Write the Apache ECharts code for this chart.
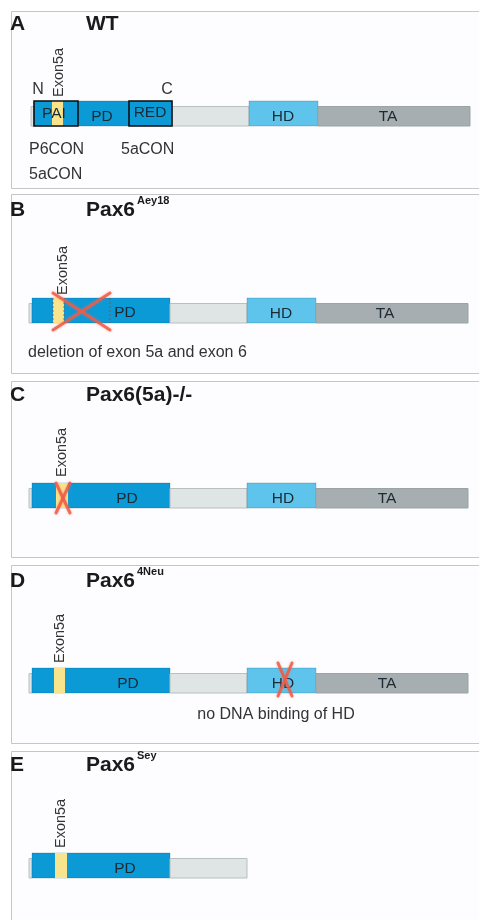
<!DOCTYPE html>
<html><head><meta charset="utf-8">
<script src="https://cdn.jsdelivr.net/npm/echarts@6/dist/echarts.min.js"></script>
<style>html,body{margin:0;padding:0;background:#fff}#c{width:479px;height:920px}</style>
</head><body><div id="c"></div><script>
// ---------- data ----------
const panelLetters = ['A', 'B', 'C', 'D', 'E'];
const panelNames = ['WT', 'Pax6', 'Pax6(5a)-/-', 'Pax6', 'Pax6'];
const panelSups = ['', 'Aey18', '', '4Neu', 'Sey'];
// protein domains (position units along the protein)
const segKinds = ['stub', 'PD', 'linker', 'HD', 'TA'];
const segStart = [0, 3, 141, 218, 287];
const segEnd = [3, 141, 218, 287, 439];
const segTall = [0, 1, 0, 1, 0];
const panelSegCount = [5, 5, 5, 5, 3];
// exon 5a insertion
const exonStart = [21, 24, 27, 25, 26];
const exonEnd = [32, 35, 39, 36, 38];
const exonLabelX = [28, 34, 33, 31, 32];
const exonLabelY = [1.16, 1.12, 1.24, 1.2, 1.2];
// boxed subdomains (panel A)
const boxNames = ['PAI', 'RED'];
const boxStart = [3, 98];
const boxEnd = [47, 141];
// crossed-out regions
const crossPanel = [1, 2, 3];
const crossStart = [24, 27, 249];
const crossEnd = [81, 41, 263];
const crossLow = [-0.28, -0.2, -0.12];
const crossHigh = [1.2, 1.0, 1.2];
// dotted deletion borders (panel B)
const dashPanel = [1, 1, 1];
const dashX = [24, 35, 81];
// domain labels
const labelPanel = [0, 0, 0, 0, 0, 1, 1, 1, 2, 2, 2, 3, 3, 3, 4];
const labelText = ['PAI', 'PD', 'RED', 'HD', 'TA', 'PD', 'HD', 'TA', 'PD', 'HD', 'TA', 'PD', 'HD', 'TA', 'PD'];
const labelX = [23, 71, 119, 252, 357, 96, 252, 356, 98, 254, 358, 99, 254, 358, 96];
const labelY = [0.5, 0.38, 0.52, 0.38, 0.38, 0.4, 0.38, 0.38, 0.38, 0.38, 0.38, 0.38, 0.38, 0.38, 0.38];
// annotations
const annPanel = [0, 0, 0, 0, 0, 1, 3];
const annText = ['N', 'C', 'P6CON', '5aCON', '5aCON', 'deletion of exon 5a and exon 6', 'no DNA binding of HD'];
const annX = [7, 136, -2, 90, -2, -1, 247];
const annY = [1.44, 1.44, -0.96, -0.96, -1.96, -1.2, -0.88];
const annAlign = ['center', 'center', 'left', 'left', 'left', 'left', 'center'];

// ---------- layout / style ----------
const gridLeft = [31, 29, 29, 29, 29];
const gridTop = [101, 298, 483, 668, 853];
const panelTop = [11, 194, 381, 565, 751];
const panelBottom = [188, 373, 557, 743, 940];
const titleY = [24.5, 210.5, 395.5, 581.5, 765.5];
const kindFill = { stub: '#dfe4e4', PD: '#0c9ad7', linker: '#dfe4e4', HD: '#5ec4ec', TA: '#a7aeb1' };
const kindStroke = { stub: '#b8c0c0', PD: 'rgba(0,80,120,0.25)', linker: '#b8c0c0', HD: 'rgba(0,90,130,0.25)', TA: '#9aa3a6' };
const FONT = '"Liberation Sans", Arial, sans-serif';
const THIN = 0.78;

const grids = [], xAxes = [], yAxes = [], series = [];
for (let p = 0; p < 5; p++) {
  grids.push({ left: gridLeft[p], top: gridTop[p], width: 439, height: 25 });
  xAxes.push({ type: 'value', gridIndex: p, min: 0, max: 439, show: false });
  yAxes.push({ type: 'value', gridIndex: p, min: 0, max: 1, show: false });

  // domain bars
  const segData = [];
  for (let i = 0; i < panelSegCount[p]; i++) {
    segData.push([segStart[i], segEnd[i], segTall[i] ? 1 : THIN, i]);
  }
  series.push({
    type: 'custom', xAxisIndex: p, yAxisIndex: p, z: 2,
    data: segData,
    renderItem: (params, api) => {
      const k = segKinds[api.value(3)];
      const a = api.coord([api.value(0), api.value(2)]);
      const b = api.coord([api.value(1), 0]);
      return { type: 'rect', shape: { x: a[0], y: a[1], width: b[0] - a[0], height: b[1] - a[1] },
        style: { fill: kindFill[k], stroke: kindStroke[k], lineWidth: 1 } };
    }
  });
  // exon 5a
  series.push({
    type: 'custom', xAxisIndex: p, yAxisIndex: p, z: 3,
    data: [[exonStart[p], exonEnd[p], 1]],
    renderItem: (params, api) => {
      const a = api.coord([api.value(0), api.value(2)]);
      const b = api.coord([api.value(1), 0]);
      return { type: 'rect', shape: { x: a[0], y: a[1], width: b[0] - a[0], height: b[1] - a[1] },
        style: { fill: '#f8e48c' } };
    }
  });
  // exon label
  series.push({
    type: 'custom', xAxisIndex: p, yAxisIndex: p, z: 6,
    data: [[exonLabelX[p], exonLabelY[p]]],
    renderItem: (params, api) => {
      const a = api.coord([api.value(0), api.value(1)]);
      return { type: 'text', x: a[0], y: a[1], rotation: Math.PI / 2,
        style: { text: 'Exon5a', fontSize: 14.5, fontFamily: FONT, fill: '#333',
          align: 'left', verticalAlign: 'middle', textAlign: 'left', textVerticalAlign: 'middle' } };
    }
  });
  // boxes
  if (p === 0) {
    series.push({
      type: 'custom', xAxisIndex: p, yAxisIndex: p, z: 4,
      data: boxStart.map((s, i) => [s, boxEnd[i], 1]),
      renderItem: (params, api) => {
        const a = api.coord([api.value(0), api.value(2)]);
        const b = api.coord([api.value(1), 0]);
        return { type: 'rect', shape: { x: a[0], y: a[1], width: b[0] - a[0], height: b[1] - a[1] },
          style: { fill: 'none', stroke: '#111', lineWidth: 1.6 } };
      }
    });
  }
  // dashed borders
  const dData = dashX.filter((x, i) => dashPanel[i] === p).map(x => [x, 0, 1]);
  if (dData.length) {
    series.push({
      type: 'custom', xAxisIndex: p, yAxisIndex: p, z: 4,
      data: dData,
      renderItem: (params, api) => {
        const a = api.coord([api.value(0), api.value(2)]);
        const b = api.coord([api.value(0), api.value(1)]);
        return { type: 'line', shape: { x1: a[0], y1: a[1], x2: b[0], y2: b[1] },
          style: { stroke: 'rgba(150,70,60,0.75)', lineWidth: 1, lineDash: [2, 2] } };
      }
    });
  }
  // crosses
  const cData = [];
  crossPanel.forEach((cp, i) => { if (cp === p) cData.push([crossStart[i], crossEnd[i], crossLow[i], crossHigh[i]]); });
  if (cData.length) {
    series.push({
      type: 'custom', xAxisIndex: p, yAxisIndex: p, z: 7,
      data: cData,
      renderItem: (params, api) => {
        const tl = api.coord([api.value(0), api.value(3)]);
        const br = api.coord([api.value(1), api.value(2)]);
        const st = { stroke: '#ee5b45', lineWidth: 3, opacity: 0.85, lineCap: 'round',
          shadowBlur: 3, shadowColor: 'rgba(240,110,90,0.6)' };
        return { type: 'group', children: [
          { type: 'line', shape: { x1: tl[0], y1: tl[1], x2: br[0], y2: br[1] }, style: st },
          { type: 'line', shape: { x1: br[0], y1: tl[1], x2: tl[0], y2: br[1] }, style: st }
        ] };
      }
    });
  }
  // domain labels
  const lData = [];
  labelPanel.forEach((lp, i) => { if (lp === p) lData.push([labelX[i], labelY[i], i]); });
  series.push({
    type: 'custom', xAxisIndex: p, yAxisIndex: p, z: 6,
    data: lData,
    renderItem: (params, api) => {
      const a = api.coord([api.value(0), api.value(1)]);
      return { type: 'text', x: a[0], y: a[1],
        style: { text: labelText[api.value(2)], fontSize: 15.5, fontFamily: FONT, fill: '#1c2a33',
          align: 'center', verticalAlign: 'middle', textAlign: 'center', textVerticalAlign: 'middle' } };
    }
  });
  // annotations
  const aData = [];
  annPanel.forEach((ap, i) => { if (ap === p) aData.push([annX[i], annY[i], i]); });
  if (aData.length) {
    series.push({
      type: 'custom', xAxisIndex: p, yAxisIndex: p, z: 6,
      data: aData,
      renderItem: (params, api) => {
        const i = api.value(2);
        const a = api.coord([api.value(0), api.value(1)]);
        return { type: 'text', x: a[0], y: a[1],
          style: { text: annText[i], fontSize: 16, fontFamily: FONT, fill: '#333',
            align: annAlign[i], verticalAlign: 'middle', textAlign: annAlign[i], textVerticalAlign: 'middle' } };
      }
    });
  }
}

// panel frames and titles
const graphics = [];
for (let p = 0; p < 5; p++) {
  graphics.push({ type: 'rect', z: -10, shape: { x: 11.5, y: panelTop[p] + 0.5, width: 480, height: panelBottom[p] - panelTop[p] },
    style: { fill: '#fdfdff', stroke: '#c6c6c6', lineWidth: 1 } });
  graphics.push({ type: 'text', z: 20, x: 10, y: titleY[p],
    style: { text: panelLetters[p], font: 'bold 21px ' + FONT, fill: '#1a1a1a', verticalAlign: 'middle', textVerticalAlign: 'middle' } });
  graphics.push({ type: 'text', z: 20, x: 86, y: titleY[p],
    style: { text: panelNames[p], font: 'bold 21px ' + FONT, fill: '#1a1a1a', verticalAlign: 'middle', textVerticalAlign: 'middle' } });
  if (panelSups[p]) {
    graphics.push({ type: 'text', z: 20, x: 137, y: titleY[p] - 10,
      style: { text: panelSups[p], font: 'bold 11px ' + FONT, fill: '#1a1a1a', verticalAlign: 'middle', textVerticalAlign: 'middle' } });
  }
}

const chart = echarts.init(document.getElementById('c'), null, { renderer: 'canvas' });
chart.setOption({
  animation: false,
  backgroundColor: '#ffffff',
  grid: grids, xAxis: xAxes, yAxis: yAxes,
  graphic: graphics,
  series: series
});
</script></body></html>
